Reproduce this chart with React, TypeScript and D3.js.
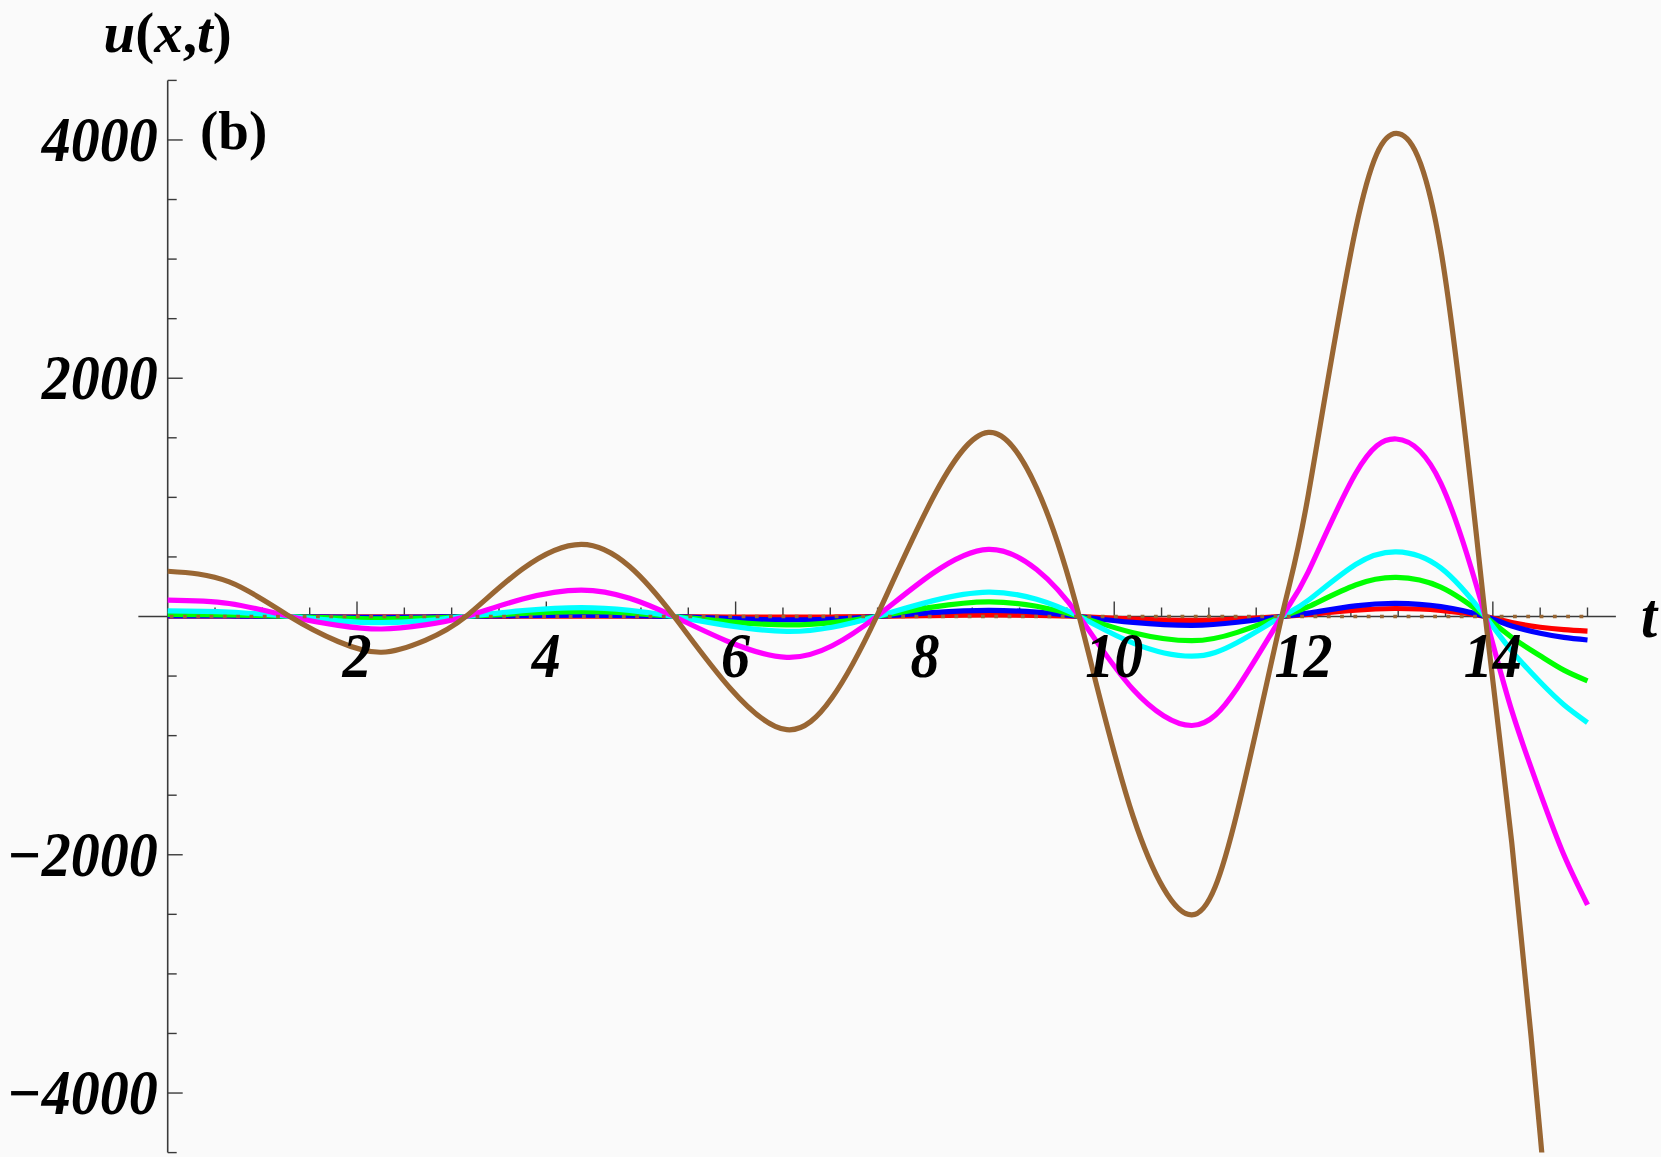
import React, { useEffect, useRef } from "react";
import * as d3 from "d3";

const tValues = [
  0, 0.65, 1.29, 1.8, 2.26, 2.72, 3.15, 3.75, 4.37, 4.88, 5.35, 5.94, 6.54,
  7.02, 7.49, 8.08, 8.67, 9.18, 9.63, 10.2, 10.82, 11.3, 11.77, 12.05, 12.55,
  12.98, 13.45, 13.92, 14.2, 14.5, 14.75, 15,
];

const redValues = [
  2, 2, 0, -2, -3, -2, 0, 2, 3, 2, 0, -4, -6, -4, 0, 8, 13, 9, 0, -22, -33,
  -22, 0, 17, 54, 67, 51, 0, -50, -90, -110, -122,
];
const blueValues = [
  5, 4, 0, -6, -8, -5, 0, 8, 12, 8, 0, -18, -29, -21, 0, 33, 52, 36, 0, -50,
  -74, -48, 0, 28, 89, 110, 83, 0, -80, -140, -175, -197,
];
const greenValues = [
  18, 14, 0, -14, -20, -13, 0, 26, 40, 28, 0, -45, -71, -51, 0, 79, 123, 86, 0,
  -136, -203, -133, 0, 82, 264, 328, 246, 0, -175, -330, -450, -540,
];
const cyanValues = [
  48, 38, 0, -36, -52, -35, 0, 49, 74, 51, 0, -79, -125, -90, 0, 131, 205, 144,
  0, -223, -333, -218, 0, 136, 437, 543, 408, 0, -290, -550, -740, -890,
];
const magentaValues = [
  138, 109, 0, -74, -105, -70, 0, 147, 222, 153, 0, -216, -343, -246, 0, 361,
  564, 395, 0, -613, -915, -600, 0, 375, 1200, 1490, 1120, 0, -790, -1480,
  -2000, -2420,
];
const brownValues = [
  380, 290, 0, -210, -300, -200, 0, 400, 606, 420, 0, -600, -950, -680, 0, 990,
  1545, 1080, 0, -1680, -2505, -1640, 0, 1020, 3250, 4055, 3080, 0, -1900,
  -4350, -6600, -9000,
];

const seriesList = [
  { name: "red", color: "#FF0000", values: redValues },
  { name: "blue", color: "#0000FF", values: blueValues },
  { name: "green", color: "#00FF00", values: greenValues },
  { name: "cyan", color: "#00FFFF", values: cyanValues },
  { name: "magenta", color: "#FF00FF", values: magentaValues },
  { name: "brown", color: "#996633", values: brownValues },
];

const xTickLabels = [2, 4, 6, 8, 10, 12, 14];
const yTickLabels = [-4000, -2000, 2000, 4000];

const WIDTH = 1661;
const HEIGHT = 1157;

function App() {
  const chartRef = useRef<SVGSVGElement>(null);

  useEffect(() => {
    drawChart();
  }, []);

  const drawChart = () => {
    const svg = d3.select(chartRef.current);
    svg.selectAll("*").remove();

    const x = d3.scaleLinear().domain([0, 15]).range([167.7, 1587.5]);
    const y = d3.scaleLinear().domain([-4500, 4500]).range([1152.6, 80.4]);
    const axisColor = "#3a3a3a";
    const font = "'Liberation Serif', 'Times New Roman', Times, serif";
    const labelStretch = "scale(1,1.08)";

    svg
      .append("defs")
      .append("clipPath")
      .attr("id", "plot-clip")
      .append("rect")
      .attr("x", x(0) - 5)
      .attr("y", y(4500))
      .attr("width", x(15) - x(0) + 10)
      .attr("height", y(-4500) - y(4500));

    // axes
    svg
      .append("line")
      .attr("x1", x(-0.31))
      .attr("x2", x(15.3))
      .attr("y1", y(0))
      .attr("y2", y(0))
      .attr("stroke", axisColor)
      .attr("stroke-width", 1.6);

    svg
      .append("line")
      .attr("x1", x(0))
      .attr("x2", x(0))
      .attr("y1", y(4500))
      .attr("y2", y(-4500))
      .attr("stroke", axisColor)
      .attr("stroke-width", 1.6);

    // x ticks every 0.5, long at labelled values
    const xTicks = d3.range(1, 31).map((i) => i * 0.5);
    svg
      .append("g")
      .selectAll("line")
      .data(xTicks)
      .join("line")
      .attr("x1", (d) => x(d))
      .attr("x2", (d) => x(d))
      .attr("y1", y(0))
      .attr("y2", (d) => y(0) - (xTickLabels.includes(d) ? 15 : 9))
      .attr("stroke", axisColor)
      .attr("stroke-width", 1.4);

    // y ticks every 500
    const yTicks = d3.range(-9, 10).map((i) => i * 500).filter((d) => d !== 0);
    svg
      .append("g")
      .selectAll("line")
      .data(yTicks)
      .join("line")
      .attr("x1", x(0))
      .attr("x2", (d) => x(0) + (yTickLabels.includes(d) ? 15 : 9))
      .attr("y1", (d) => y(d))
      .attr("y2", (d) => y(d))
      .attr("stroke", axisColor)
      .attr("stroke-width", 1.4);

    // curves
    const line = d3
      .line<number>()
      .x((d, i) => x(tValues[i]))
      .y((d) => y(d))
      .curve(d3.curveNatural);

    const curves = svg.append("g").attr("clip-path", "url(#plot-clip)");
    seriesList.forEach((s) => {
      curves
        .append("path")
        .attr("d", line(s.values))
        .attr("fill", "none")
        .attr("stroke", s.color)
        .attr("stroke-width", 5.2)
        .attr("stroke-linejoin", "round");
    });

    // dotted brown line along zero
    svg
      .append("line")
      .attr("x1", x(0) + 2)
      .attr("x2", x(15))
      .attr("y1", y(0))
      .attr("y2", y(0))
      .attr("stroke", "#996633")
      .attr("stroke-width", 3.6)
      .attr("stroke-dasharray", "3.8 9.5");

    // tick labels
    svg
      .append("g")
      .selectAll("text")
      .data(xTickLabels)
      .join("text")
      .text((d) => d)
      .attr("transform", (d) => `translate(${x(d)},${y(0) + 60}) ${labelStretch}`)
      .attr("text-anchor", "middle")
      .style("font-family", font)
      .style("font-weight", "bold")
      .style("font-style", "italic")
      .style("font-size", "58px")
      .attr("fill", "#000");

    svg
      .append("g")
      .selectAll("text")
      .data(yTickLabels)
      .join("text")
      .text((d) => (d < 0 ? "\u2212" + Math.abs(d) : String(d)))
      .attr("transform", (d) => `translate(${x(0) - 10},${y(d) + 21}) ${labelStretch}`)
      .attr("text-anchor", "end")
      .style("font-family", font)
      .style("font-weight", "bold")
      .style("font-style", "italic")
      .style("font-size", "58px")
      .attr("fill", "#000");

    // axis labels
    const yLabel = svg
      .append("text")
      .attr("x", x(0))
      .attr("y", 52)
      .attr("text-anchor", "middle")
      .style("font-family", font)
      .style("font-weight", "bold")
      .style("font-size", "57px")
      .attr("fill", "#000");
    yLabel.append("tspan").style("font-style", "italic").text("u");
    yLabel.append("tspan").text("(");
    yLabel.append("tspan").style("font-style", "italic").text("x");
    yLabel.append("tspan").text(",");
    yLabel.append("tspan").style("font-style", "italic").text("t");
    yLabel.append("tspan").text(")");

    svg
      .append("text")
      .text("t")
      .attr("transform", `translate(1641,637) ${labelStretch}`)
      .style("font-family", font)
      .style("font-weight", "bold")
      .style("font-style", "italic")
      .style("font-size", "58px")
      .attr("fill", "#000");

    svg
      .append("text")
      .text("(b)")
      .attr("x", 200)
      .attr("y", 149)
      .style("font-family", font)
      .style("font-weight", "bold")
      .style("font-size", "55px")
      .attr("fill", "#000");
  };

  return (
    <svg
      ref={chartRef}
      width={WIDTH}
      height={HEIGHT}
      style={{ position: "absolute", left: 0, top: 0, background: "#FAFAFA" }}
    ></svg>
  );
}

export default App;
